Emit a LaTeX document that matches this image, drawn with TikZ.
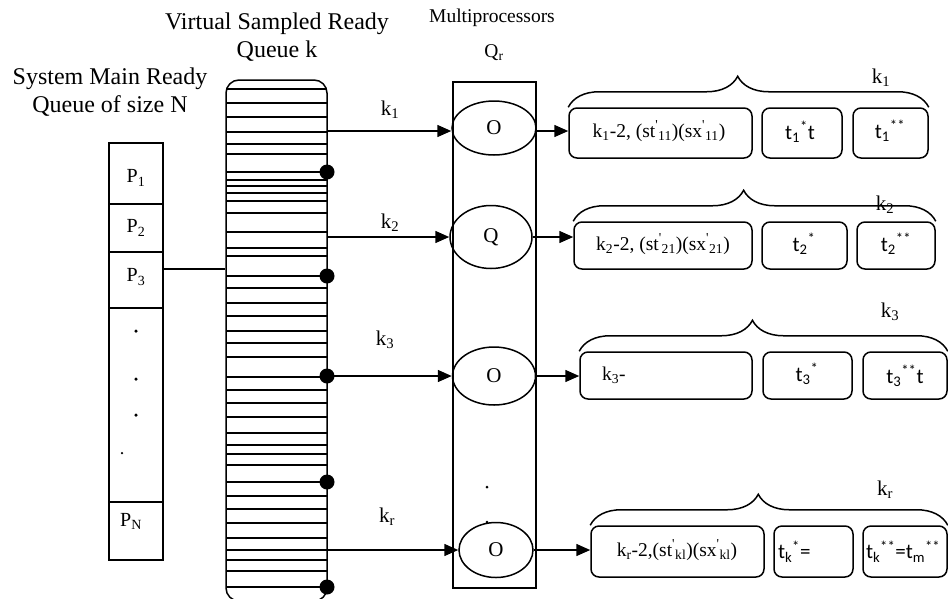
\documentclass[tikz,border=0pt]{standalone}
\usepackage{fontspec}
\setmainfont{Liberation Serif}
\newfontfamily\sansT{Carlito}
\usetikzlibrary{arrows.meta,decorations.pathreplacing,shapes.geometric}
\newcommand\primesub[1]{\textsuperscript{\textquotesingle}\textsubscript{#1}}
\begin{document}
\begin{tikzpicture}[x=1pt,y=-1pt, line width=1.5pt,
  title/.style={font=\fontsize{24}{28}\selectfont, align=center, inner sep=0},
  ptitle/.style={font=\fontsize{19.5}{22}\selectfont, inner sep=0},
  klabel/.style={font=\fontsize{21}{24}\selectfont, inner sep=0},
  plabel/.style={font=\fontsize{20}{24}\selectfont, inner sep=0},
  cell/.style={draw, rectangle, minimum width=54pt, inner sep=0},
  proc/.style={draw, ellipse, inner sep=0, font=\fontsize{21}{24}\selectfont},
  slot/.style={draw, rounded corners=8pt, inner sep=0},
  stxt/.style={font=\fontsize{19.5}{24}\selectfont, inner sep=0},
  ttxt/.style={font=\sansT\fontsize{21}{24}\selectfont, inner sep=0},
  arr/.style={-{Triangle[length=14pt,width=12pt]}},
  brc/.style={decorate, decoration={brace, amplitude=31pt, aspect=0.47}},
  qdot/.style={circle, fill, inner sep=0, minimum size=15pt},
  sdot/.style={circle, fill, inner sep=0, minimum size=3.5pt}
]
\useasboundingbox (0,0) rectangle (948,598);

% titles
\node[title] (tv) at (277,37) {Virtual Sampled Ready\\Queue k};
\node[title] (ts) at (110,92) {System Main Ready\\Queue of size N};
\node[ptitle] (tm) at (492,18) {Multiprocessors};
\node[ptitle] (tq) at (494,53) {Q\textsubscript{r}};

% main ready queue
\node[cell, minimum height=61pt] (p1) at (136,173.5) {};
\node[cell, minimum height=48pt] (p2) at (136,228) {};
\node[cell, minimum height=56pt] (p3) at (136,280) {};
\node[cell, minimum height=194pt] (pd) at (136,405) {};
\node[cell, minimum height=58pt] (pn) at (136,531) {};
\node[plabel] at (136,178) {P\textsubscript{1}};
\node[plabel] at (136,228) {P\textsubscript{2}};
\node[plabel] at (136,277) {P\textsubscript{3}};
\node[plabel] at (131,521) {P\textsubscript{N}};
\node[sdot] at (136,331) {};
\node[sdot] at (136,379) {};
\node[sdot] at (136,415) {};
\node[sdot, minimum size=2.5pt] at (122,453) {};

% virtual sampled ready queue
\node[draw, rounded corners=13pt, minimum width=101pt, minimum height=521pt, inner sep=0] (vq) at (276.5,340.5) {};
\foreach \y in {89,103,117,132,144,154,172,180,186,193,201,213,232,248,256,276,288,303,316,331,343,357,377,390,403,417,433,445,454,465,482,496,509,523,538,550,560,571,587}
  \draw (226,\y) -- (327,\y);
\node[qdot] (d1) at (327,172) {};
\node[qdot] (d2) at (327,276) {};
\node[qdot] (d3) at (327,376) {};
\node[qdot] (d4) at (327,482) {};
\node[qdot] (d5) at (327,587) {};

\coordinate (p3out) at ([yshift=11pt]p3.east);
\draw (p3out) -- (p3out -| vq.west);

% multiprocessor column
\node[draw, minimum width=83pt, minimum height=506pt, inner sep=0] (mp) at (494.5,335) {};
\node[proc, minimum width=84pt, minimum height=54pt] (e1) at (494,128) {O};
\node[proc, minimum width=82pt, minimum height=63pt] (e2) at (491,237) {Q};
\node[proc, minimum width=83pt, minimum height=58pt] (e3) at (494,376) {O};
\node[proc, minimum width=74pt, minimum height=55pt] (e4) at (496,550) {O};
\node[sdot, minimum size=3pt] at (487,487) {};
\node[sdot, minimum size=3pt] at (487,522) {};

% input arrows
\draw[arr] (vq.east |- 0,131) -- (e1.west |- 0,131);
\draw[arr] (vq.east |- e2.west) -- (e2.west);
\draw[arr] (d3.center) -- (e3.west);
\draw[arr] (vq.east |- e4.west) -- (e4.west);
\node[klabel] at (390,110) {k\textsubscript{1}};
\node[klabel] at (390,223) {k\textsubscript{2}};
\node[klabel] at (385,340) {k\textsubscript{3}};
\node[klabel] at (387,517) {k\textsubscript{r}};

% row 1
\node[slot, minimum width=183pt, minimum height=50pt] (b11) at (660.5,133) {};
\node[slot, minimum width=80pt, minimum height=50pt] (b12) at (802,133) {};
\node[slot, minimum width=75pt, minimum height=50pt] (b13) at (890.5,133) {};
\node[stxt] at (659,131) {k\textsubscript{1}-2, (st\primesub{11})(sx\primesub{11})};
\node[ttxt] at (800,132) {t\textsubscript{1}\textsuperscript{*}t};
\node[ttxt] at (890,131) {t\textsubscript{1}\textsuperscript{**}};
\draw[brc] (b11.north west) -- (b13.north east);
\node[klabel] at (881,78) {k\textsubscript{1}};
\draw[arr] (e1.east |- 0,131) -- (b11.west |- 0,131);

% row 2
\node[slot, minimum width=178pt, minimum height=47pt] (b21) at (663,245.5) {};
\node[slot, minimum width=85pt, minimum height=47pt] (b22) at (804.5,245.5) {};
\node[slot, minimum width=78pt, minimum height=47pt] (b23) at (896,245.5) {};
\node[stxt] at (663,244) {k\textsubscript{2}-2, (st\primesub{21})(sx\primesub{21})};
\node[ttxt] at (804,244) {t\textsubscript{2}\textsuperscript{*}};
\node[ttxt] at (896,244) {t\textsubscript{2}\textsuperscript{**}};
\draw[brc] (b21.north west) -- (b23.north east);
\node[klabel] at (885,205) {k\textsubscript{2}};
\draw[arr] (e2.east) -- (e2.east -| b21.west);

% row 3
\node[slot, minimum width=172pt, minimum height=47pt] (b31) at (666,375.5) {};
\node[slot, minimum width=89pt, minimum height=47pt] (b32) at (807.5,375.5) {};
\node[slot, minimum width=84pt, minimum height=47pt] (b33) at (905,375.5) {};
\node[stxt, anchor=west] at ([xshift=22pt]b31.west) {k\textsubscript{3}-};
\node[ttxt] at (807,374) {t\textsubscript{3}\textsuperscript{*}};
\node[ttxt] at (905,376) {t\textsubscript{3}\textsuperscript{**}t};
\draw[brc] (b31.north west) -- (b33.north east);
\node[klabel] at (890,312) {k\textsubscript{3}};
\draw[arr] (e3.east) -- (e3.east -| b31.west);

% row r
\node[slot, minimum width=173pt, minimum height=51pt] (b41) at (677.5,551.5) {};
\node[slot, minimum width=79pt, minimum height=51pt] (b42) at (813.5,551.5) {};
\node[slot, minimum width=84pt, minimum height=51pt] (b43) at (905,551.5) {};
\node[stxt] at (677,550) {k\textsubscript{r}-2,(st\primesub{kl})(sx\primesub{kl})};
\node[ttxt, anchor=west] at ([xshift=4pt]b42.west) {t\textsubscript{k}\textsuperscript{*}=};
\node[ttxt, anchor=west] at ([xshift=3pt]b43.west) {t\textsubscript{k}\textsuperscript{**}=t\textsubscript{m}\textsuperscript{**}};
\draw[brc] (b41.north west) -- (b43.north east);
\node[klabel] at (885,490) {k\textsubscript{r}};
\draw[arr] (e4.east) -- (e4.east -| b41.west);
\end{tikzpicture}
\end{document}
